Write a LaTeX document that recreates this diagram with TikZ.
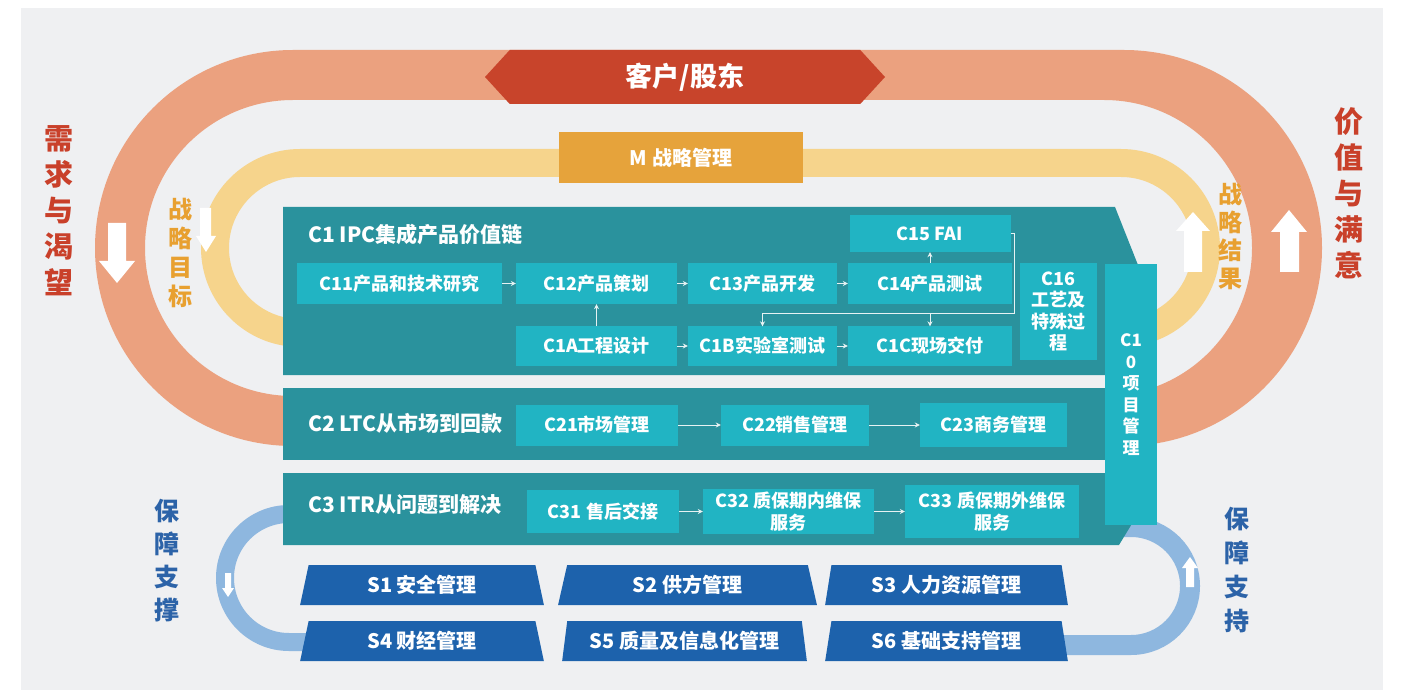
\documentclass[tikz,border=0pt]{standalone}
\usepackage{fontspec}
\setmainfont{Noto Sans CJK SC}
\usetikzlibrary{arrows.meta,shapes.geometric,shapes.symbols}

\definecolor{bggrey}{HTML}{EFF0F2}
\definecolor{ringorange}{HTML}{EBA17F}
\definecolor{ringyellow}{HTML}{F6D48C}
\definecolor{ringblue}{HTML}{8EB7DF}
\definecolor{bannerred}{HTML}{C8442B}
\definecolor{mgold}{HTML}{E6A33B}
\definecolor{panelteal}{HTML}{2A929D}
\definecolor{boxcyan}{HTML}{21B4C3}
\definecolor{sblue}{HTML}{1D62AC}
\definecolor{linkwhite}{HTML}{E6F2F3}
\definecolor{txtred}{HTML}{C9402A}
\definecolor{txtgold}{HTML}{E8A030}
\definecolor{txtblue}{HTML}{2C63A8}

\begin{document}
\begin{tikzpicture}[x=1pt,y=-1pt,>=Stealth,
  box/.style={fill=boxcyan,text=white,inner sep=0pt,minimum height=41pt,align=center,
    font=\fontsize{18}{21.5}\selectfont\bfseries},
  title/.style={anchor=west,inner sep=0pt,text=white,font=\fontsize{21}{24}\selectfont\bfseries},
  link/.style={->,draw=linkwhite,line width=0.8pt,>={Stealth[length=5pt,width=5pt]}},
  sbox/.style={trapezium,trapezium left angle=78,trapezium right angle=78,
    trapezium stretches=true,fill=sblue,text=white,minimum height=40pt,inner sep=0pt,
    font=\fontsize{20}{24}\selectfont\bfseries},
  vlabel/.style={align=center,inner sep=0pt,font=\bfseries}]
\useasboundingbox (0,0) rectangle (1402,700);
\fill[bggrey] (21,8) rectangle (1383,690);
% 外圈：需求与渴望 / 价值与满意
\fill[ringorange,even odd rule]
  (293,50) -- (1124,50) arc[start angle=-90,end angle=90,radius=198]
  -- (293,446) arc[start angle=90,end angle=270,radius=198] -- cycle
  (293,100) -- (1104,100) arc[start angle=-90,end angle=90,radius=148]
  -- (293,396) arc[start angle=90,end angle=270,radius=148] -- cycle;
% 内圈：战略目标 / 战略结果
\fill[ringyellow,even odd rule]
  (300,149) -- (1121,149) arc[start angle=-90,end angle=90,radius=99]
  -- (300,347) arc[start angle=90,end angle=270,radius=99] -- cycle
  (300,177) -- (1121,177) arc[start angle=-90,end angle=90,radius=71]
  -- (300,319) arc[start angle=90,end angle=270,radius=71] -- cycle;
% 白色方向箭头
\fill[white] (108,223) -- (126,223) -- (126,261) -- (135,261) -- (117,283) -- (99,261) -- (108,261) -- cycle;
\fill[white] (1280,272) -- (1299,272) -- (1299,232) -- (1307,232) -- (1289,210) -- (1271,232) -- (1280,232) -- cycle;
\fill[white] (200,208) -- (211,208) -- (211,236) -- (216,236) -- (206,252) -- (196,236) -- (200,236) -- cycle;
\fill[white] (1184,272) -- (1202,272) -- (1202,231) -- (1210,231) -- (1193,212) -- (1176,231) -- (1184,231) -- cycle;
% 侧边竖排文字
\node[vlabel,text=txtred,font=\fontsize{29}{36}\selectfont\bfseries] (need) at (59,211) {需\\求\\与\\渴\\望};
\node[vlabel,text=txtred,font=\fontsize{29}{36}\selectfont\bfseries] (value) at (1349,193) {价\\值\\与\\满\\意};
\node[vlabel,text=txtgold,font=\fontsize{24}{29}\selectfont\bfseries] (goal) at (180,253) {战\\略\\目\\标};
\node[vlabel,text=txtgold,font=\fontsize{24}{28}\selectfont\bfseries] (result) at (1230,236) {战\\略\\结\\果};
\node[vlabel,text=txtblue,font=\fontsize{25}{33}\selectfont\bfseries] (supl) at (167,561) {保\\障\\支\\撑};
\node[vlabel,text=txtblue,font=\fontsize{25}{34}\selectfont\bfseries] (supr) at (1237,570) {保\\障\\支\\持};
% 顶部
\node[signal,signal to=west and east,signal pointer angle=95,fill=bannerred,text=white,
  minimum width=400pt,minimum height=54pt,inner sep=0pt,
  font=\fontsize{27}{30}\selectfont\bfseries] (cust) at (685,77) {客户/股东};
\node[fill=mgold,text=white,minimum width=244pt,minimum height=51pt,inner sep=0pt,
  font=\fontsize{20}{24}\selectfont\bfseries] (mgmt) at (681,157.5) {M 战略管理};
% 保障支撑圈
\draw[ringblue,line width=18pt] (305,514) -- (289,514) arc[start angle=270,end angle=90,radius=64] -- (310,642);
\draw[ringblue,line width=20pt] (1115,527) -- (1131,527) arc[start angle=-90,end angle=90,radius=59] -- (1060,645);
\fill[white] (225,573) -- (231,573) -- (231,588) -- (234,588) -- (228,597) -- (222,588) -- (225,588) -- cycle;
\fill[white] (1186,587) -- (1194,587) -- (1194,568) -- (1198,568) -- (1190,557) -- (1182,568) -- (1186,568) -- cycle;
% 三条主流程底板
\fill[panelteal] (283,207) -- (1115,207) -- (1138,265) -- (1138,375) -- (283,375) -- cycle;
\fill[panelteal] (283,388) rectangle (1105,460);
\fill[panelteal] (283,473) -- (1133,473) -- (1133,522) -- (1119,545) -- (283,545) -- cycle;
\node[title] (t1) at (308,235) {C1 IPC集成产品价值链};
\node[title] (t2) at (308,423) {C2 LTC从市场到回款};
\node[title] (t3) at (308,505) {C3 ITR从问题到解决};
% C1
\node[box,minimum width=205pt] (c11) at (399.5,283.5) {C11产品和技术研究};
\node[box,minimum width=161pt] (c12) at (596.5,283.5) {C12产品策划};
\node[box,minimum width=149pt] (c13) at (762.5,283.5) {C13产品开发};
\node[box,minimum width=164pt] (c14) at (930,283.5) {C14产品测试};
\node[box,minimum width=161pt,minimum height=37pt] (c15) at (930,233.5) {C15 FAI};
\node[box,minimum width=161pt,minimum height=39pt] (c1a) at (596.5,346) {C1A工程设计};
\node[box,minimum width=149pt,minimum height=39pt] (c1b) at (762.5,346) {C1B实验室测试};
\node[box,minimum width=164pt,minimum height=39pt] (c1c) at (930,346) {C1C现场交付};
\node[box,minimum width=77pt,minimum height=97pt] (c16) at (1058.5,311.5) {C16\\工艺及\\特殊过\\程};
\node[box,minimum width=52pt,minimum height=261pt,font=\fontsize{17}{21.5}\selectfont\bfseries] (c10) at (1131,394.5) {C1\\0\\项\\目\\管\\理};
\draw[link] (c11) -- (c12);
\draw[link] (c12) -- (c13);
\draw[link] (c13) -- (c14);
\draw[link] (c1a) -- (c12);
\draw[link] (c14) -- (c15);
\draw[link] (c1a) -- (c1b);
\draw[link] (c1b) -- (c1c);
\coordinate (fork) at (1014,313);
\draw[link] (c15.east) -| (fork) -| (c1b.north);
\draw[link] (c1c.north |- fork) -- (c1c.north);
% C2
\node[box,minimum width=162pt] (c21) at (597,425) {C21市场管理};
\node[box,minimum width=148pt] (c22) at (795,425) {C22销售管理};
\node[box,minimum width=147pt,minimum height=44pt] (c23) at (993.5,425) {C23商务管理};
\draw[link] (c21) -- (c22);
\draw[link] (c22) -- (c23);
% C3
\node[box,minimum width=152pt,minimum height=43pt] (c31) at (603,511.5) {C31 售后交接};
\node[box,minimum width=171pt,minimum height=45pt] (c32) at (788.5,511.5) {C32 质保期内维保\\服务};
\node[box,minimum width=174pt,minimum height=53pt] (c33) at (992,511.5) {C33 质保期外维保\\服务};
\draw[link] (c31) -- (c32);
\draw[link] (c32) -- (c33);
% 支撑流程
\node[sbox,minimum width=244pt] (s1) at (422,585) {S1 安全管理};
\node[sbox,minimum width=259pt] (s2) at (687.5,585) {S2 供方管理};
\node[sbox,minimum width=243pt] (s3) at (946.5,585) {S3 人力资源管理};
\node[sbox,minimum width=244pt] (s4) at (422,641) {S4 财经管理};
\node[sbox,minimum width=245pt] (s5) at (684.5,641) {S5 质量及信息化管理};
\node[sbox,minimum width=243pt] (s6) at (946.5,641) {S6 基础支持管理};
\end{tikzpicture}
\end{document}
